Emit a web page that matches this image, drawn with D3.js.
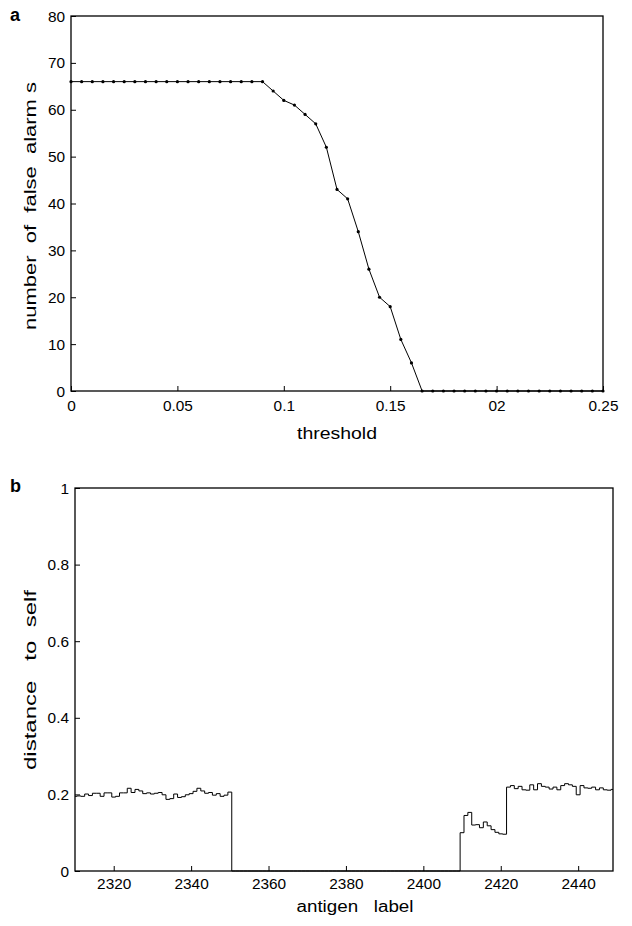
<!DOCTYPE html>
<html>
<head>
<meta charset="utf-8">
<script src="https://cdn.jsdelivr.net/npm/d3@7"></script>
<style>
  html, body { margin: 0; padding: 0; background: #fff; }
  svg { display: block; }
  text { font-family: "Liberation Sans", Arial, Helvetica, sans-serif; fill: #000; }
</style>
</head>
<body>
<svg id="chart" width="632" height="926"></svg>
<script>
// ---------- Panel a data ----------
const thresholds = [0,0.005,0.01,0.015,0.02,0.025,0.03,0.035,0.04,0.045,0.05,0.055,0.06,0.065,0.07,0.075,0.08,0.085,0.09,0.095,
  0.1,0.105,0.11,0.115,0.12,0.125,0.13,0.135,0.14,0.145,0.15,0.155,0.16,0.165,0.17,0.175,0.18,0.185,0.19,0.195,
  0.2,0.205,0.21,0.215,0.22,0.225,0.23,0.235,0.24,0.245,0.25];
const falseAlarms = [66,66,66,66,66,66,66,66,66,66,66,66,66,66,66,66,66,66,66,64,
  62,61,59,57,52,43,41,34,26,20,18,11,6,0,0,0,0,0,0,0,
  0,0,0,0,0,0,0,0,0,0,0];
const aXTickValues = [0, 0.05, 0.1, 0.15, 0.2, 0.25];
const aXTickLabels = ["0", "0.05", "0.1", "0.15", "02", "0.25"];
const aYTickValues = [0, 10, 20, 30, 40, 50, 60, 70, 80];

// ---------- Panel b data ----------
const antigenLabels = d3.range(2310, 2450);
const distanceToSelf = [
  // 2310-2350
  0.195,0.196,0.195,0.201,0.197,0.203,0.203,0.195,0.204,0.204,
  0.193,0.195,0.204,0.204,0.216,0.205,0.213,0.209,0.202,0.204,
  0.201,0.203,0.205,0.199,0.187,0.189,0.201,0.192,0.194,0.199,
  0.202,0.208,0.216,0.209,0.203,0.205,0.198,0.202,0.195,0.198,
  0.206,
  // 2351-2409
  0,0,0,0,0,0,0,0,0,0, 0,0,0,0,0,0,0,0,0,0,
  0,0,0,0,0,0,0,0,0,0, 0,0,0,0,0,0,0,0,0,0,
  0,0,0,0,0,0,0,0,0,0, 0,0,0,0,0,0,0,0,0,
  // 2410-2421
  0.100,0.145,0.153,0.120,0.121,0.113,0.128,0.118,0.108,0.101,0.097,0.096,
  // 2422-2449
  0.219,0.223,0.215,0.221,0.212,0.211,0.225,0.212,0.228,0.221,
  0.219,0.214,0.219,0.212,0.223,0.228,0.225,0.221,0.199,0.223,
  0.217,0.216,0.219,0.212,0.217,0.212,0.211,0.213
];
const bXTickValues = [2320, 2340, 2360, 2380, 2400, 2420, 2440];
const bYTickValues = [0, 0.2, 0.4, 0.6, 0.8, 1];
const bYTickLabels = ["0", "0.2", "0.4", "0.6", "0.8", "1"];

const STRETCH = 1.1;
const svg = d3.select("#chart");

function styleAxis(g, orient) {
  g.select(".domain").remove();
  g.selectAll(".tick line").attr("stroke", "#000").attr("stroke-width", 1);
  g.selectAll(".tick text")
    .attr("font-size", 14)
    .attr("fill", "#000")
    .attr("font-family", "'Liberation Sans', Arial, sans-serif");
  if (orient === "left") {
    g.selectAll(".tick text")
      .attr("x", -6 / STRETCH)
      .attr("dy", "0.36em")
      .attr("transform", `scale(${STRETCH},1)`);
  } else {
    g.selectAll(".tick text")
      .attr("dy", "0.71em")
      .attr("transform", `scale(${STRETCH},1)`);
  }
}

function title(x, y, str, len, rotate) {
  svg.append("text")
    .attr("transform", `translate(${x},${y})` + (rotate ? " rotate(-90)" : ""))
    .attr("text-anchor", "middle")
    .attr("font-size", 16)
    .attr("textLength", len)
    .attr("lengthAdjust", "spacingAndGlyphs")
    .style("white-space", "pre")
    .text(str);
}

// ================= Panel a =================
{
  const L = 71, R = 603, T = 16, B = 391;
  const x = d3.scaleLinear().domain([0, 0.25]).range([L, R]);
  const y = d3.scaleLinear().domain([0, 80]).range([B, T]);

  const gx = svg.append("g").attr("transform", `translate(0,${B})`)
    .call(d3.axisBottom(x).tickValues(aXTickValues)
      .tickFormat((d, i) => aXTickLabels[i]).tickSizeInner(-5).tickSizeOuter(0));
  styleAxis(gx, "bottom");
  gx.selectAll(".tick text").attr("y", 10);

  const gy = svg.append("g").attr("transform", `translate(${L},0)`)
    .call(d3.axisLeft(y).tickValues(aYTickValues).tickFormat(d3.format("d"))
      .tickSizeInner(-5).tickSizeOuter(0));
  styleAxis(gy, "left");

  svg.append("rect").attr("x", L).attr("y", T).attr("width", R - L).attr("height", B - T)
    .attr("fill", "none").attr("stroke", "#000").attr("stroke-width", 1.3);

  const pts = thresholds.map((t, i) => [t, falseAlarms[i]]);
  svg.append("path")
    .attr("d", d3.line().x(d => x(d[0])).y(d => y(d[1]))(pts))
    .attr("fill", "none").attr("stroke", "#000").attr("stroke-width", 1);
  svg.append("g").selectAll("circle").data(pts).join("circle")
    .attr("cx", d => x(d[0])).attr("cy", d => y(d[1])).attr("r", 1.6).attr("fill", "#000");

  svg.append("text").attr("x", 10).attr("y", 21)
    .attr("font-family", "'Liberation Serif', 'DejaVu Serif', serif")
    .attr("font-weight", "bold").attr("font-size", 18).text("a");

  title(36, 206, "number  of  false  alarm s", 248, true);
  title(337, 439, "threshold", 80, false);
}

// ================= Panel b =================
{
  const L = 75, R = 613, T = 488, B = 871;
  const x = d3.scaleLinear().domain([2310, 2449]).range([L, R]);
  const y = d3.scaleLinear().domain([0, 1]).range([B, T]);

  const gx = svg.append("g").attr("transform", `translate(0,${B})`)
    .call(d3.axisBottom(x).tickValues(bXTickValues).tickFormat(d3.format("d"))
      .tickSizeInner(-5).tickSizeOuter(0));
  styleAxis(gx, "bottom");
  gx.selectAll(".tick text").attr("y", 8);

  const gy = svg.append("g").attr("transform", `translate(${L},0)`)
    .call(d3.axisLeft(y).tickValues(bYTickValues).tickFormat((d, i) => bYTickLabels[i])
      .tickSizeInner(-5).tickSizeOuter(0));
  styleAxis(gy, "left");

  svg.append("rect").attr("x", L).attr("y", T).attr("width", R - L).attr("height", B - T)
    .attr("fill", "none").attr("stroke", "#000").attr("stroke-width", 1.3);

  const pts = antigenLabels.map((a, i) => [a, distanceToSelf[i]]);
  svg.append("path")
    .attr("d", d3.line().curve(d3.curveStep).x(d => x(d[0])).y(d => y(d[1]))(pts))
    .attr("fill", "none").attr("stroke", "#000").attr("stroke-width", 1);

  svg.append("text").attr("x", 10).attr("y", 492)
    .attr("font-family", "'Liberation Serif', 'DejaVu Serif', serif")
    .attr("font-weight", "bold").attr("font-size", 18).text("b");

  title(36, 680, "distance   to  self", 180, true);
  title(355, 912, "antigen   label", 117, false);
}
</script>
</body>
</html>
